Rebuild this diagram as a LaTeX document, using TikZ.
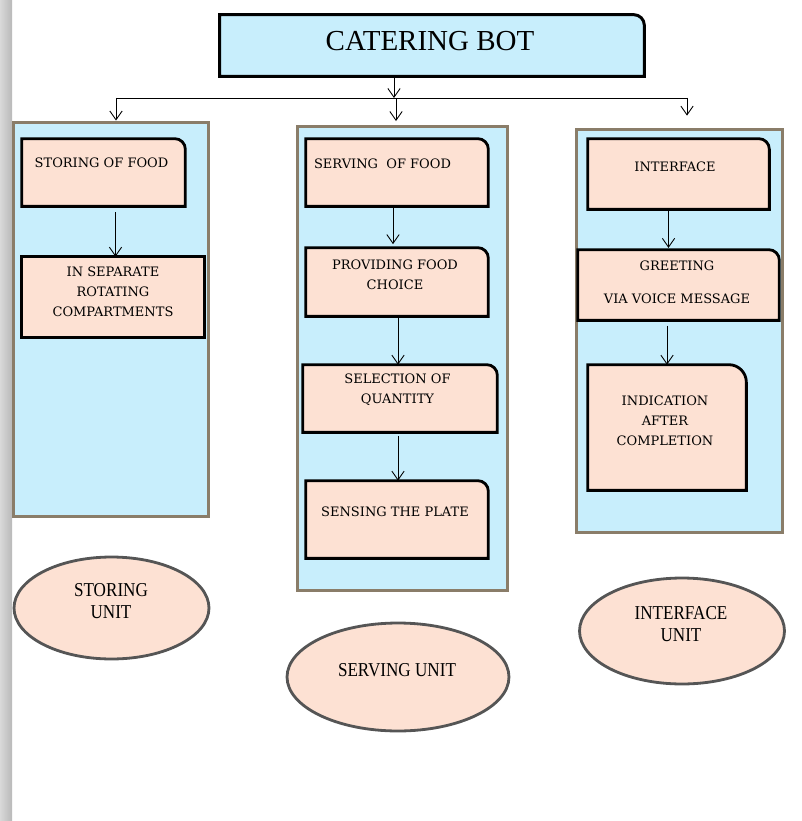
\documentclass[tikz,border=0pt]{standalone}
\usepackage{fontspec}
\newfontfamily\boxfont{DejaVu Serif}
\newfontfamily\titlefont{Liberation Serif}
\newfontfamily\unitfont[FakeStretch=0.87]{Liberation Serif}
\usetikzlibrary{arrows.meta,shapes.geometric}

\definecolor{skyfill}{HTML}{C8EEFC}
\definecolor{peach}{HTML}{FDE1D3}
\definecolor{framegrey}{HTML}{8A7D69}
\definecolor{ringgrey}{HTML}{555555}

% box outline with one rounded corner (top right): style, radius, node
\newcommand{\tabframe}[3]{%
  \draw[#1] (#3.south west) -- (#3.north west) -- ([xshift=-#2]#3.north east)
    arc[start angle=90,end angle=0,radius=#2] -- (#3.south east) -- cycle;}

\tikzset{
  cell/.style={rectangle, inner sep=0pt},
  cellline/.style={draw=black, fill=peach, line width=1.6pt},
  titleline/.style={draw=black, fill=skyfill, line width=1.7pt},
  celltext/.style={font=\boxfont\fontsize{7.4}{11.3}\selectfont, align=center, inner sep=0pt},
  unitframe/.style={rectangle, draw=framegrey, fill=skyfill, line width=1.7pt, inner sep=0pt},
  unitring/.style={ellipse, draw=ringgrey, fill=peach, line width=1.6pt, inner sep=0pt},
  unittext/.style={font=\unitfont\fontsize{11.2}{12.5}\selectfont, align=center, inner sep=0pt},
  flow/.style={-{Straight Barb[length=5pt,width=7pt]}, line width=0.5pt},
}

\begin{document}
\begin{tikzpicture}[x=0.02cm, y=-0.02cm]
\useasboundingbox (0,0) rectangle (801,821);
\shade[left color=gray!30, right color=gray!55] (0,0) rectangle (12,821);

% title
\node[cell, minimum width=8.48cm, minimum height=1.22cm] (bot) at (432,45.5) {};
\tabframe{titleline}{6pt}{bot}
\node[font=\titlefont\fontsize{16.5}{18}\selectfont, inner sep=0pt] (bottext) at (430,41) {CATERING BOT};

% the three units
\node[unitframe, minimum width=3.92cm, minimum height=7.9cm] (storeframe) at (111,319.5) {};
\node[unitframe, minimum width=4.22cm, minimum height=9.3cm] (serveframe) at (402.5,358.5) {};
\node[unitframe, minimum width=4.14cm, minimum height=8.08cm] (faceframe) at (679.5,331) {};

% branching from the title
\coordinate (hub) at (394,98);
\coordinate (tapL) at (116,98);
\coordinate (tapM) at (396,98);
\coordinate (tapR) at (687,98);
\draw[flow] (bot.south -| hub) -- (hub);
\draw[line width=0.5pt] (tapL) -- (tapR);
\draw[flow] (tapL) -- (tapL |- storeframe.north);
\draw[flow, shorten >=2pt] (tapM) -- (tapM |- serveframe.north);
\draw[flow, shorten >=6.8pt] (tapR) -- (tapR |- faceframe.north);

% storing unit
\node[cell, minimum width=3.26cm, minimum height=1.34cm] (sfood) at (103.5,172.5) {};
\tabframe{cellline}{6pt}{sfood}
\node[celltext] (sfoodtext) at (101.5,163) {STORING OF FOOD};
\node[cell, minimum width=3.64cm, minimum height=1.6cm] (sep) at (113,297) {};
\draw[cellline] (sep.south west) rectangle (sep.north east);
\node[celltext] (septext) at (113,292) {IN SEPARATE\\ROTATING\\COMPARTMENTS};
\draw[flow, shorten <=3.4pt] ([xshift=0.05cm]sep.north |- sfood.south) -- ([xshift=0.05cm]sep.north);

% serving unit
\node[cell, minimum width=3.64cm, minimum height=1.34cm] (serve) at (397,172.5) {};
\tabframe{cellline}{6pt}{serve}
\node[celltext] (servetext) at (382.5,164) {SERVING\ \ OF FOOD};
\node[cell, minimum width=3.64cm, minimum height=1.36cm] (provide) at (397,282) {};
\tabframe{cellline}{6pt}{provide}
\node[celltext] (providetext) at (395,275) {PROVIDING FOOD\\CHOICE};
\node[cell, minimum width=3.88cm, minimum height=1.34cm] (select) at (400,398.5) {};
\tabframe{cellline}{6pt}{select}
\node[celltext] (selecttext) at (397.5,390) {SELECTION OF\\QUANTITY};
\node[cell, minimum width=3.64cm, minimum height=1.54cm] (sense) at (397,519.5) {};
\tabframe{cellline}{6pt}{sense}
\node[celltext] (sensetext) at (395,512) {SENSING THE PLATE};
\draw[flow, shorten >=2pt] ([xshift=-0.08cm]serve.south) -- ([xshift=-0.08cm]serve.south |- provide.north);
\draw[flow] ([xshift=0.02cm]provide.south) -- ([xshift=0.02cm]provide.south |- select.north);
\draw[flow, shorten <=2pt] ([xshift=0.02cm]provide.south |- select.south) -- ([xshift=0.02cm]provide.south |- sense.north);

% interface unit
\node[cell, minimum width=3.62cm, minimum height=1.4cm] (face) at (678.5,174) {};
\tabframe{cellline}{6pt}{face}
\node[celltext] (facetext) at (675,167) {INTERFACE};
\node[cell, minimum width=4.02cm, minimum height=1.4cm] (greet) at (678.5,285) {};
\tabframe{cellline}{6pt}{greet}
\node[celltext] (greettext) at (677,282.5) {GREETING\\[7.4pt]VIA VOICE MESSAGE};
\node[cell, minimum width=3.16cm, minimum height=2.5cm] (indic) at (667,427.5) {};
\tabframe{cellline}{10pt}{indic}
\node[celltext] (indictext) at (665,421) {INDICATION\\AFTER\\COMPLETION};
\draw[flow, shorten >=1pt] ([xshift=-0.2cm]face.south) -- ([xshift=-0.2cm]face.south |- greet.north);
\draw[flow, shorten <=3pt] (indic.north |- greet.south) -- (indic.north);

% unit labels
\node[unitring, minimum width=3.9cm, minimum height=2.04cm] (storeunit) at (111.5,608) {};
\node[unittext] (storeunittext) at (111,601) {STORING\\UNIT};
\node[unitring, minimum width=4.44cm, minimum height=2.16cm] (serveunit) at (398,677) {};
\node[unittext] (serveunittext) at (397,670) {SERVING UNIT};
\node[unitring, minimum width=4.1cm, minimum height=2.12cm] (faceunit) at (682,631) {};
\node[unittext] (faceunittext) at (681,624) {INTERFACE\\UNIT};
\end{tikzpicture}
\end{document}
